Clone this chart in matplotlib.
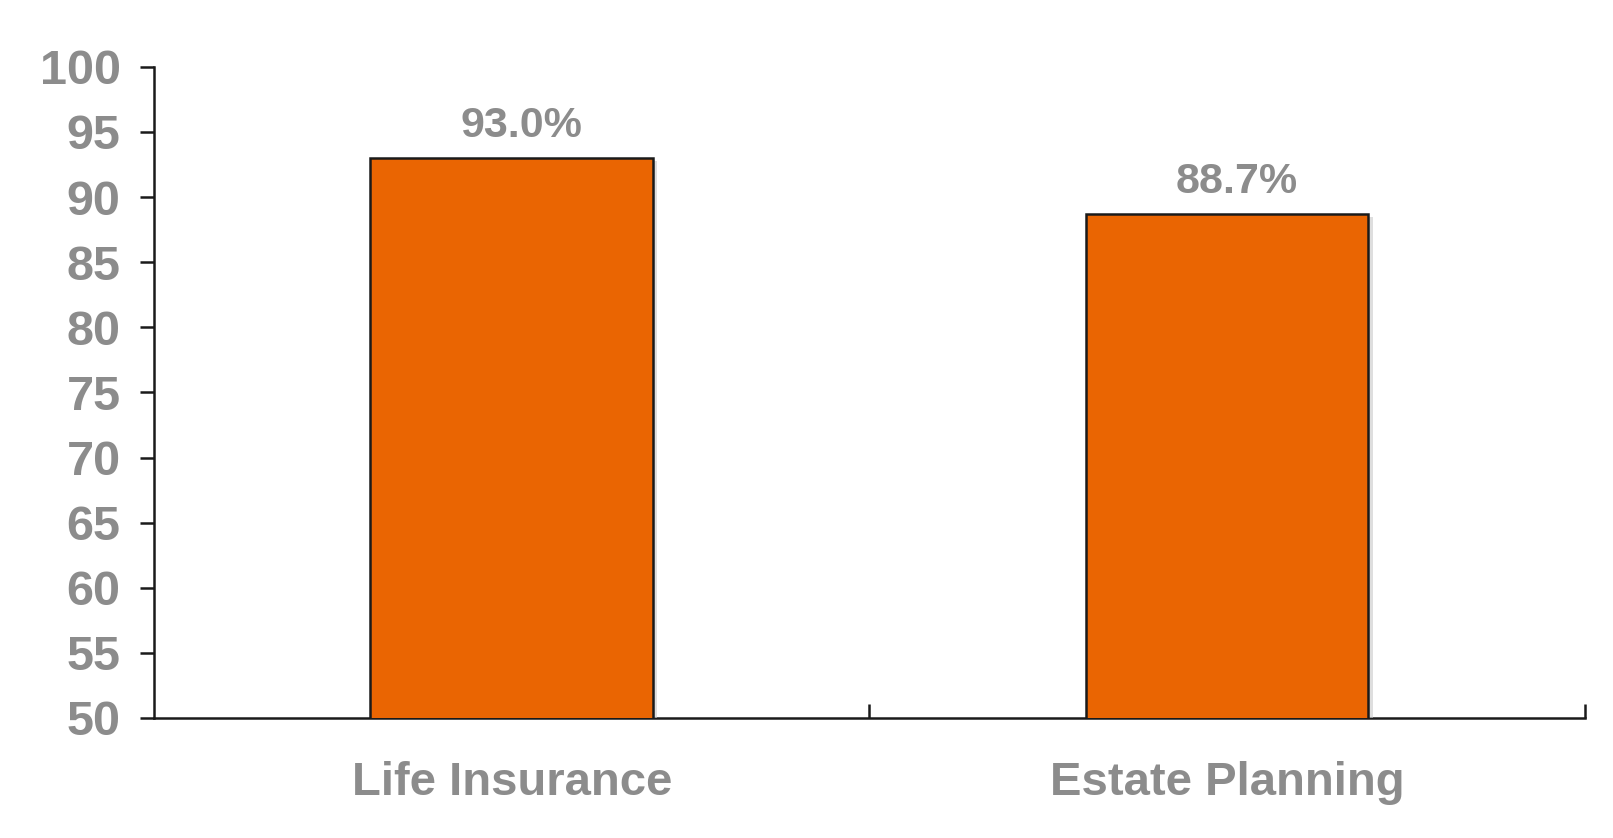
import matplotlib
matplotlib.use("Agg")
import matplotlib.pyplot as plt
import matplotlib.patheffects as pe

categories = ["Life Insurance", "Estate Planning"]
values = [93.0, 88.7]
value_labels = ["93.0%", "88.7%"]
y_ticks = [50, 55, 60, 65, 70, 75, 80, 85, 90, 95, 100]

grey = "#8c8c8c"
orange = "#EA6502"

plt.rcParams["font.family"] = ["Liberation Sans", "DejaVu Sans"]

fig = plt.figure(figsize=(16.13, 8.38), dpi=100)
ax = fig.add_axes([0.0955, 0.1432, 0.887, 0.777])

x = list(range(len(categories)))
bars = ax.bar(x, values, width=0.395, color=orange, edgecolor="#1a1a1a", linewidth=1.8,
              zorder=3)
for b in bars:
    b.set_path_effects([pe.SimplePatchShadow(offset=(3, -2), shadow_rgbFace="#c8c8c8", alpha=0.6),
                        pe.Normal()])

for xi, v, lab in zip(x, values, value_labels):
    ax.annotate(lab, (xi, v), xytext=(7, 15), textcoords="offset points",
                ha="center", va="baseline", fontsize=31, fontweight="bold", color=grey)

ax.set_ylim(50, 100)
ax.set_xlim(-0.5, len(categories) - 0.5)
ax.set_yticks(y_ticks)
ax.set_yticklabels([str(t) for t in y_ticks])

# category ticks at boundaries, labels at centres
ax.set_xticks([i + 0.5 for i in x])
ax.set_xticklabels([])
ax.set_xticks(x, minor=True)
ax.set_xticklabels(categories, minor=True)
ax.tick_params(axis="x", which="major", direction="in", length=10, width=1.8, color="#1a1a1a")
ax.tick_params(axis="x", which="minor", length=0, pad=31, labelsize=34, labelcolor=grey)
ax.tick_params(axis="y", direction="out", length=10, width=1.8, color="#1a1a1a",
               pad=14, labelsize=35, labelcolor=grey)
for t in ax.get_yticklabels() + ax.get_xticklabels(minor=True):
    t.set_fontweight("bold")

for s in ["top", "right"]:
    ax.spines[s].set_visible(False)
for s in ["left", "bottom"]:
    ax.spines[s].set_linewidth(1.8)
    ax.spines[s].set_color("#1a1a1a")

fig.savefig("out.png", dpi=100, facecolor="white")
